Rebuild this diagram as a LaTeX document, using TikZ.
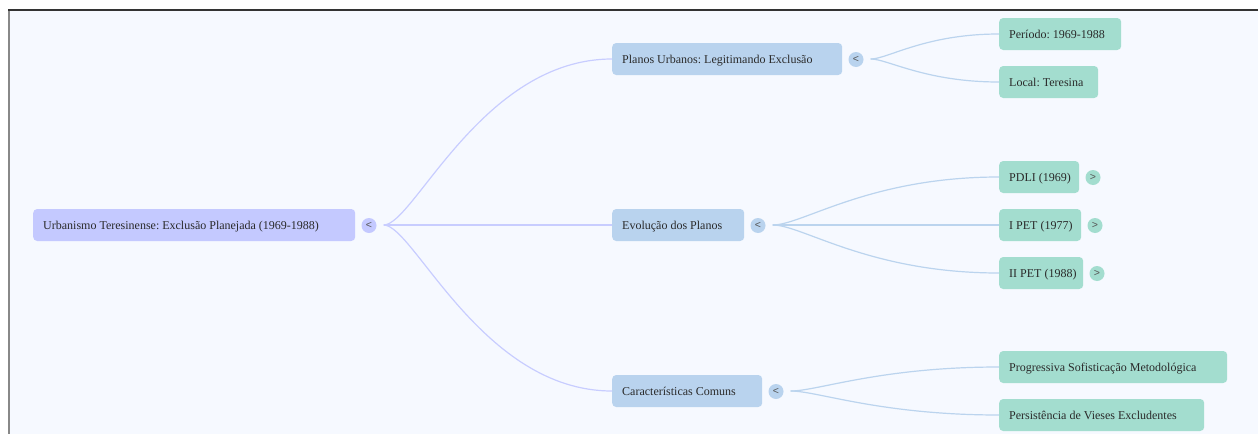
\documentclass[tikz,border=0pt]{standalone}
\usepackage{fontspec}
\setmainfont{Liberation Serif}
\newfontfamily\togglefont{Liberation Sans}
\usetikzlibrary{calc}
\frenchspacing
\definecolor{bg}{HTML}{F6F9FF}
\definecolor{rootc}{HTML}{C4C9FF}
\definecolor{midc}{HTML}{B9D3EE}
\definecolor{leafc}{HTML}{A3DDCF}
\definecolor{txt}{HTML}{2A2A2A}
\definecolor{rootlink}{HTML}{C8CDFF}
\definecolor{midlink}{HTML}{BBD4EE}
\definecolor{topline}{HTML}{333333}
\definecolor{leftline}{HTML}{888888}
\newcommand\boxtext[2]{\makebox[#1][l]{#2}}
\begin{document}
\begin{tikzpicture}[x=1pt,y=-1pt,
 box/.style={rounded corners=4pt, anchor=west, minimum height=32pt, inner xsep=10pt, inner ysep=0pt, text height=10pt, text depth=2pt, font=\fontsize{12}{14}\selectfont, text=txt},
 rootbox/.style={box, fill=rootc},
 midbox/.style={box, fill=midc},
 leafbox/.style={box, fill=leafc},
 tog/.style={circle, minimum size=15pt, inner sep=0pt, font=\togglefont\fontsize{10.5}{10.5}\selectfont, text=txt!80},
 rtog/.style={tog, fill=rootc},
 mtog/.style={tog, fill=midc},
 ltog/.style={tog, fill=leafc},
 rlink/.style={draw=rootlink, line width=1.2pt},
 mlink/.style={draw=midlink, line width=1.2pt}
]
\useasboundingbox (0,0) rectangle (1258,434);
\fill[white] (0,0) rectangle (1258,434);
\fill[bg] (9,10) rectangle (1258,434);
\draw[leftline, line width=2pt] (9,10) -- (9,434);
\draw[topline, line width=2pt] (8,10) -- (1258,10);

% root
\node[rootbox] (root) at (33,225) {\boxtext{302pt}{Urbanismo Teresinense: Exclusão Planejada (1969-1988)}};
\node[rtog] (troot) at (369,225.5) {<};

% children
\node[midbox] (c1) at (612,59) {\boxtext{210pt}{Planos Urbanos: Legitimando Exclusão}};
\node[mtog] (t1) at (856,59.5) {<};
\node[midbox] (c2) at (612,225) {\boxtext{112pt}{Evolução dos Planos}};
\node[mtog] (t2) at (758,225.5) {<};
\node[midbox] (c3) at (612,391) {\boxtext{130pt}{Características Comuns}};
\node[mtog] (t3) at (776,391.5) {<};

% leaves
\node[leafbox] (l1) at (999,34) {\boxtext{102pt}{Período: 1969-1988}};
\node[leafbox] (l2) at (999,82) {\boxtext{79pt}{Local: Teresina}};
\node[leafbox] (l3) at (999,177) {\boxtext{60pt}{PDLI (1969)}};
\node[ltog] (tl3) at (1093,177.5) {>};
\node[leafbox] (l4) at (999,225) {\boxtext{62pt}{I PET (1977)}};
\node[ltog] (tl4) at (1095,225.5) {>};
\node[leafbox] (l5) at (999,273) {\boxtext{64pt}{II PET (1988)}};
\node[ltog] (tl5) at (1097,273.5) {>};
\node[leafbox] (l6) at (999,367) {\boxtext{208pt}{Progressiva Sofisticação Metodológica}};
\node[leafbox] (l7) at (999,415) {\boxtext{185pt}{Persistência de Vieses Excludentes}};

% link start points
\coordinate (rs) at ($(root.west -| troot.east)+(7,0)$);
\coordinate (s1) at ($(c1.west -| t1.east)+(7,0)$);
\coordinate (s2) at ($(c2.west -| t2.east)+(7,0)$);
\coordinate (s3) at ($(c3.west -| t3.east)+(7,0)$);

% root links
\draw[rlink] (rs) .. controls ($(rs)+(30,0)$) and ($(c1.west)+(-130,0)$) .. (c1.west);
\draw[rlink] (rs) -- (c2.west);
\draw[rlink] (rs) .. controls ($(rs)+(30,0)$) and ($(c3.west)+(-130,0)$) .. (c3.west);

% child links
\draw[mlink] (s1) .. controls ($(s1)+(17,0)$) and ($(l1.west)+(-74,0)$) .. (l1.west);
\draw[mlink] (s1) .. controls ($(s1)+(17,0)$) and ($(l2.west)+(-74,0)$) .. (l2.west);
\draw[mlink] (s2) .. controls ($(s2)+(30,0)$) and ($(l3.west)+(-130,0)$) .. (l3.west);
\draw[mlink] (s2) -- (l4.west);
\draw[mlink] (s2) .. controls ($(s2)+(30,0)$) and ($(l5.west)+(-130,0)$) .. (l5.west);
\draw[mlink] (s3) .. controls ($(s3)+(27,0)$) and ($(l6.west)+(-119,0)$) .. (l6.west);
\draw[mlink] (s3) .. controls ($(s3)+(27,0)$) and ($(l7.west)+(-119,0)$) .. (l7.west);
\end{tikzpicture}
\end{document}
